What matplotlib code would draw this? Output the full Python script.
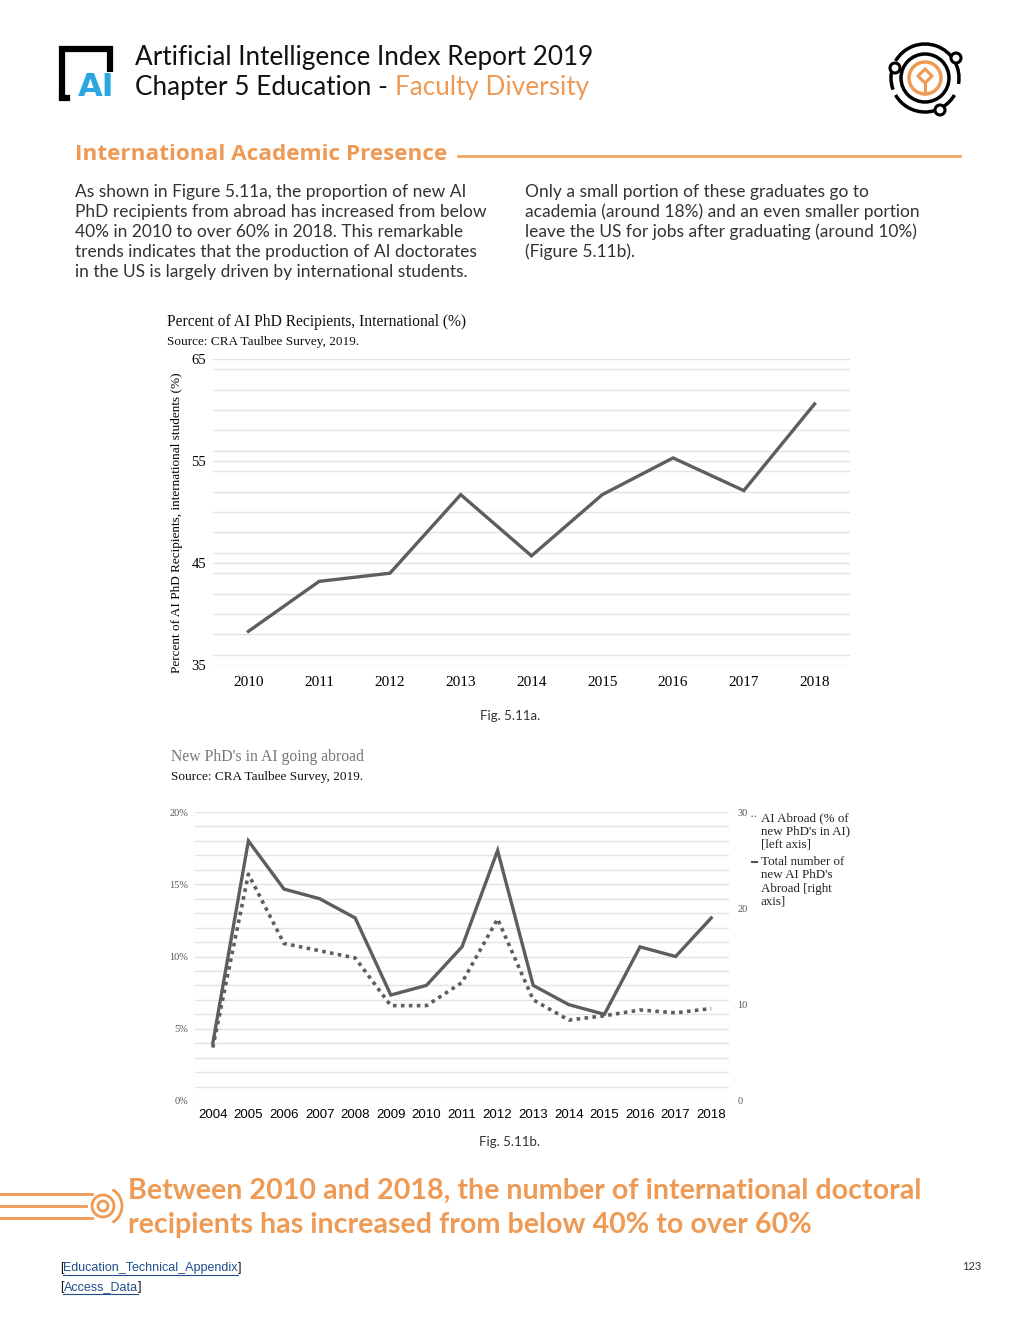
import matplotlib
matplotlib.use("Agg")
import matplotlib.pyplot as plt
from matplotlib.patches import Circle, Rectangle, Polygon, Arc
from matplotlib.ticker import MultipleLocator, FuncFormatter

# ---------------- data ----------------
years_a = [2010, 2011, 2012, 2013, 2014, 2015, 2016, 2017, 2018]
pct_international = [38.3, 43.2, 44.0, 51.7, 45.7, 51.7, 55.3, 52.1, 60.6]

years_b = [2004, 2005, 2006, 2007, 2008, 2009, 2010, 2011, 2012, 2013, 2014, 2015, 2016, 2017, 2018]
pct_abroad = [3.7, 15.7, 10.9, 10.4, 9.9, 6.6, 6.6, 8.2, 12.6, 7.0, 5.6, 5.9, 6.3, 6.1, 6.4]
count_abroad = [6, 27, 22, 21, 19, 11, 12, 16, 26, 12, 10, 9, 16, 15, 19]

yticks_a = [35, 45, 55, 65]
yticks_b_left = [0, 5, 10, 15, 20]
yticks_b_right = [0, 10, 20, 30]

W, H = 1020, 1320
ORANGE = "#EE9A55"
LINE = "#5E5E5E"
GRID = "#E3E3E3"
SERIF = "Liberation Serif"
SANS = "Liberation Sans"
HEAD = "Lato"

fig = plt.figure(figsize=(W / 100, H / 100), dpi=100)
fig.patch.set_facecolor("white")

def fbox(l, t, r, b):
    return [l / W, 1 - b / H, (r - l) / W, (b - t) / H]

# overlay axes in pixel coordinates
ov = fig.add_axes([0, 0, 1, 1])
ov.set_xlim(0, W)
ov.set_ylim(H, 0)
ov.axis("off")
ov.patch.set_alpha(0)

# ---------------- header ----------------
# logo (black frame + blue AI)
ov.plot([62, 62, 110, 110], [99, 49, 49, 72], color="black", lw=4.5, solid_capstyle="butt", solid_joinstyle="miter")
ov.plot([62, 67], [97.5, 97.5], color="black", lw=4.5)
ov.text(96, 87, "AI", fontsize=23, fontweight="bold", color="#2AA7E1", family="DejaVu Sans",
        ha="center", va="center")

HS = 18.8
ov.text(135, 58, "Artificial Intelligence Index Report 2019", fontsize=HS, family=HEAD,
        color="#111111", va="center", ha="left")
t1 = ov.text(135, 88, "Chapter 5 Education - ", fontsize=HS, family=HEAD,
             color="#111111", va="center", ha="left")
fig.canvas.draw()
r = fig.canvas.get_renderer()
bb = t1.get_window_extent(renderer=r)
ov.text(bb.x1, 88, "Faculty Diversity", fontsize=HS, family=HEAD, color=ORANGE,
        va="center", ha="left")

# right icon
cx, cy = 925, 78
ov.add_patch(Arc((cx, cy), 68, 68, theta1=-150, theta2=10, color="black", lw=2.5))
ov.add_patch(Arc((cx, cy), 68, 68, theta1=30, theta2=150, color="black", lw=2.5))
ov.add_patch(Arc((cx, cy), 68, 68, theta1=160, theta2=200, color="black", lw=2.5))
ov.add_patch(Circle((cx, cy), 24, fill=False, color="black", lw=2.5))
ov.add_patch(Circle((cx, cy), 16, fill=False, color=ORANGE, lw=2.5))
ov.add_patch(Polygon([[cx, cy - 9], [cx + 7, cy - 2], [cx, cy + 5], [cx - 7, cy - 2]],
                     closed=True, fill=False, color=ORANGE, lw=2.2))
ov.plot([cx, cx], [cy + 5, cy + 15], color=ORANGE, lw=2.2)
for ang_x, ang_y in [(956, 58), (895, 68), (940, 110)]:
    ov.add_patch(Circle((ang_x, ang_y), 5, facecolor="white", edgecolor="black", lw=2.2, zorder=3))

# ---------------- section heading ----------------
ov.text(75, 155, "International Academic Presence", fontsize=16.2, family="Open Sans",
        fontweight="bold", color=ORANGE, va="center", ha="left")
ov.plot([458, 960], [156, 156], color=ORANGE, lw=1.8)

col1 = ["As shown in Figure 5.11a, the proportion of new AI",
        "PhD recipients from abroad has increased from below",
        "40% in 2010 to over 60% in 2018. This remarkable",
        "trends indicates that the production of AI doctorates",
        "in the US is largely driven by international students."]
col2 = ["Only a small portion of these graduates go to",
        "academia (around 18%) and an even smaller portion",
        "leave the US for jobs after graduating (around 10%)",
        "(Figure 5.11b)."]
BS = 12.5
for i, s in enumerate(col1):
    ov.text(75, 192 + 20 * i, s, fontsize=BS, family=HEAD, color="#333333", va="center", ha="left")
for i, s in enumerate(col2):
    ov.text(525, 192 + 20 * i, s, fontsize=BS, family=HEAD, color="#333333", va="center", ha="left")

# ---------------- Fig 5.11a ----------------
ax1 = fig.add_axes(fbox(213, 359, 850, 665))
ax1.plot(years_a, pct_international, color=LINE, lw=2.4, solid_joinstyle="miter", zorder=3)
ax1.set_xlim(2009.5, 2018.5)
ax1.set_ylim(35, 65)
ax1.set_yticks(yticks_a)
ax1.yaxis.set_minor_locator(MultipleLocator(2))
ax1.set_xticks(years_a)
ax1.grid(True, axis="y", which="both", color=GRID, lw=1.0)
ax1.set_axisbelow(True)
for s in ax1.spines.values():
    s.set_visible(False)
ax1.tick_params(axis="both", which="both", length=0)
ax1.tick_params(axis="y", pad=5, labelsize=10.5)
ax1.tick_params(axis="x", pad=8, labelsize=11)
for lab in ax1.get_xticklabels() + ax1.get_yticklabels():
    lab.set_family(SERIF)
ax1.set_ylabel("Percent of AI PhD Recipients, international students (%)", family=SERIF,
               fontsize=9.5)
ax1.yaxis.set_label_coords(-0.047, 0.465)

ov.text(167, 322, "Percent of AI PhD Recipients, International (%)", family=SERIF,
        fontsize=11.2, color="#111111", va="center", ha="left")
ov.text(167, 342, "Source: CRA Taulbee Survey, 2019.", family=SERIF, fontsize=9.5,
        color="#111111", va="center", ha="left")
ov.text(510, 716, "Fig. 5.11a.", family=HEAD, fontsize=9.5, color="#333333",
        va="center", ha="center")

# ---------------- Fig 5.11b ----------------
ax2 = fig.add_axes(fbox(195, 812, 729, 1101))
ax2.plot(years_b, pct_abroad, color=LINE, lw=2.6, linestyle=(0, (1, 1.2)), zorder=3)
ax2.set_xlim(2003.5, 2018.5)
ax2.set_ylim(0, 20)
ax2.set_yticks(yticks_b_left)
ax2.yaxis.set_major_formatter(FuncFormatter(lambda v, p: f"{int(v)}%"))
ax2.yaxis.set_minor_locator(MultipleLocator(1))
ax2.set_xticks(years_b)
ax2.grid(True, axis="y", which="both", color=GRID, lw=1.0)
ax2.set_axisbelow(True)
for s in ax2.spines.values():
    s.set_visible(False)
ax2.tick_params(axis="both", which="both", length=0)
ax2.tick_params(axis="y", pad=5, labelsize=7.5, labelcolor="#555555")
ax2.tick_params(axis="x", pad=6, labelsize=9.5)
for lab in ax2.get_yticklabels():
    lab.set_family(SERIF)
for lab in ax2.get_xticklabels():
    lab.set_family(SANS)

ax2r = ax2.twinx()
ax2r.plot(years_b, count_abroad, color=LINE, lw=2.4, solid_joinstyle="miter", zorder=3)
ax2r.set_ylim(0, 30)
ax2r.set_yticks(yticks_b_right)
for s in ax2r.spines.values():
    s.set_visible(False)
ax2r.tick_params(axis="y", length=0, pad=6, labelsize=7.5, labelcolor="#555555")
for lab in ax2r.get_yticklabels():
    lab.set_family(SERIF)

ov.text(171, 757, "New PhD's in AI going abroad", family=SERIF, fontsize=11.3,
        color="#777777", va="center", ha="left")
ov.text(171, 777, "Source: CRA Taulbee Survey, 2019.", family=SERIF, fontsize=9.5,
        color="#111111", va="center", ha="left")

LS = 9.4
leg1 = ["AI Abroad (% of", "new PhD's in AI)", "[left axis]"]
leg2 = ["Total number of", "new AI PhD's", "Abroad [right", "axis]"]
for i, s in enumerate(leg1):
    ov.text(761, 818 + 13.3 * i, s, family=SERIF, fontsize=LS, color="#222222", va="center", ha="left")
ov.text(758, 817, "··", family=SERIF, fontsize=LS, color="#555555", va="center", ha="right")
for i, s in enumerate(leg2):
    ov.text(761, 862 + 13.3 * i, s, family=SERIF, fontsize=LS, color="#222222", va="center", ha="left")
ov.plot([752, 757], [862, 862], color="#555555", lw=1.5)

ov.text(510, 1142, "Fig. 5.11b.", family=HEAD, fontsize=9.5, color="#333333",
        va="center", ha="center")

# ---------------- callout ----------------
for yy, x1 in [(1194, 92), (1206, 86), (1218, 92)]:
    ov.plot([0, x1], [yy, yy], color=ORANGE, lw=2.0)
ov.add_patch(Circle((103, 1206), 11, fill=False, color=ORANGE, lw=2.0))
ov.add_patch(Circle((103, 1206), 5, fill=False, color=ORANGE, lw=2.0))
ov.add_patch(Arc((103, 1206), 38, 38, theta1=-60, theta2=60, color=ORANGE, lw=2.0))
CS = 20.6
ov.text(128, 1191, "Between 2010 and 2018, the number of international doctoral", family=HEAD,
        fontsize=CS, fontweight="bold", color=ORANGE, va="center", ha="left")
ov.text(128, 1225, "recipients has increased from below 40% to over 60%", family=HEAD,
        fontsize=CS, fontweight="bold", color=ORANGE, va="center", ha="left")

# ---------------- footer links ----------------
LINK = "#1F4E8C"
for yy, word in [(1268, "Education_Technical_Appendix"), (1287, "Access_Data")]:
    tb = ov.text(60, yy, "[", family=SANS, fontsize=9, color="#111111", va="center", ha="left")
    fig.canvas.draw()
    b0 = tb.get_window_extent(renderer=r)
    tw = ov.text(b0.x1, yy, word, family=SANS, fontsize=9, color=LINK, va="center", ha="left")
    fig.canvas.draw()
    b1 = tw.get_window_extent(renderer=r)
    ov.plot([b1.x0, b1.x1], [yy + 7, yy + 7], color=LINK, lw=0.8)
    ov.text(b1.x1, yy, "]", family=SANS, fontsize=9, color="#111111", va="center", ha="left")

ov.text(972, 1267, "123", family=HEAD, fontsize=8, color="#333333", va="center", ha="center")

fig.savefig("out.png", dpi=100, facecolor="white")
